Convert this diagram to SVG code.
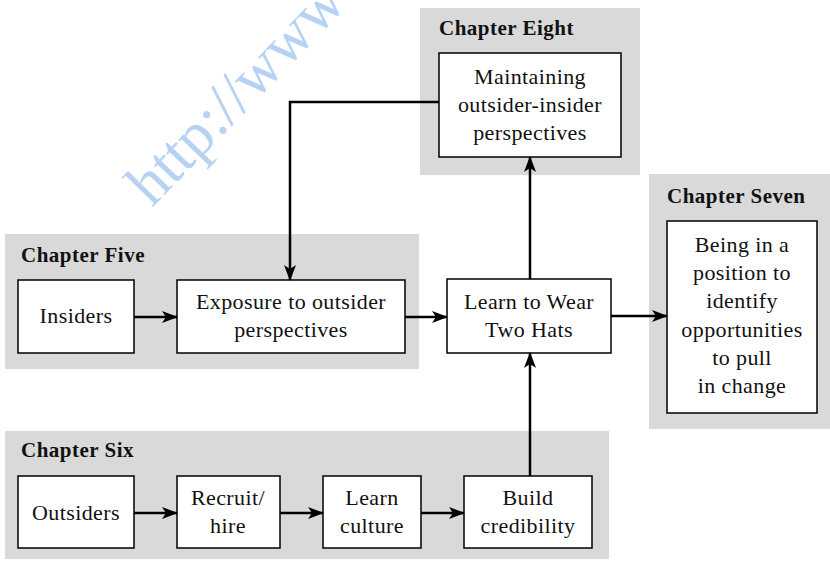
<svg xmlns="http://www.w3.org/2000/svg" width="830" height="562" viewBox="0 0 830 562">
<style>
.panel{fill:#d9d9d9}
.box{fill:#fff;stroke:#000;stroke-width:1.5}
.t{font-family:"Liberation Serif","DejaVu Serif",serif;font-size:22px;letter-spacing:0.4px;fill:#111;text-anchor:middle}
.h{font-family:"Liberation Serif","DejaVu Serif",serif;font-size:21px;letter-spacing:0.5px;font-weight:bold;fill:#111}
.c{fill:none;stroke:#000;stroke-width:2.5}
.wm{font-family:"Liberation Serif","DejaVu Serif",serif;font-size:62px;fill:#b7d2f3}
</style>
<defs>
<marker id="ah" viewBox="0 0 16 12" refX="15" refY="6" markerWidth="16" markerHeight="12" markerUnits="userSpaceOnUse" orient="auto">
<path d="M0,0 L16,6 L0,12 L4,6 Z" fill="#000"/>
</marker>
</defs>
<rect width="830" height="562" fill="#fff"/>
<text class="wm" transform="translate(152,208) rotate(-46)">http://www</text>

<g id="panel-eight">
<rect class="panel" x="420" y="8" width="220" height="167"/>
<text class="h" x="439" y="35">Chapter Eight</text>
</g>
<g id="panel-seven">
<rect class="panel" x="649" y="174" width="181" height="255"/>
<text class="h" x="667" y="203">Chapter Seven</text>
</g>
<g id="panel-five">
<rect class="panel" x="5" y="234" width="414" height="135"/>
<text class="h" x="21" y="262">Chapter Five</text>
</g>
<g id="panel-six">
<rect class="panel" x="5" y="431" width="604" height="128"/>
<text class="h" x="21" y="457">Chapter Six</text>
</g>

<g id="maintaining">
<rect class="box" x="439" y="53" width="182" height="104"/>
<text class="t" x="530" y="84">Maintaining</text>
<text class="t" x="530" y="112">outsider-insider</text>
<text class="t" x="530" y="140">perspectives</text>
</g>
<g id="being">
<rect class="box" x="667" y="221" width="150" height="192"/>
<text class="t" x="742" y="252">Being in a</text>
<text class="t" x="742" y="280">position to</text>
<text class="t" x="742" y="308">identify</text>
<text class="t" x="742" y="337">opportunities</text>
<text class="t" x="742" y="365">to pull</text>
<text class="t" x="742" y="393">in change</text>
</g>
<g id="learn-hats">
<rect class="box" x="447" y="279" width="164" height="74"/>
<text class="t" x="529" y="309">Learn to Wear</text>
<text class="t" x="529" y="337">Two Hats</text>
</g>
<g id="insiders">
<rect class="box" x="18" y="280" width="116" height="73"/>
<text class="t" x="76" y="323">Insiders</text>
</g>
<g id="exposure">
<rect class="box" x="177" y="280" width="228" height="73"/>
<text class="t" x="291" y="309">Exposure to outsider</text>
<text class="t" x="291" y="337">perspectives</text>
</g>
<g id="outsiders">
<rect class="box" x="18" y="476" width="116" height="72"/>
<text class="t" x="76" y="520">Outsiders</text>
</g>
<g id="recruit">
<rect class="box" x="177" y="476" width="103" height="72"/>
<text class="t" x="228" y="505">Recruit/</text>
<text class="t" x="228" y="533">hire</text>
</g>
<g id="culture">
<rect class="box" x="323" y="476" width="98" height="72"/>
<text class="t" x="372" y="505">Learn</text>
<text class="t" x="372" y="533">culture</text>
</g>
<g id="credibility">
<rect class="box" x="464" y="476" width="128" height="72"/>
<text class="t" x="528" y="505">Build</text>
<text class="t" x="528" y="533">credibility</text>
</g>

<g id="connectors">
<line class="c" x1="134" y1="317" x2="177" y2="317" marker-end="url(#ah)"/>
<line class="c" x1="405" y1="317" x2="447" y2="317" marker-end="url(#ah)"/>
<line class="c" x1="611" y1="316" x2="667" y2="316" marker-end="url(#ah)"/>
<line class="c" x1="530" y1="279" x2="530" y2="157" marker-end="url(#ah)"/>
<polyline class="c" points="439,102 290,102 290,280" marker-end="url(#ah)"/>
<line class="c" x1="530" y1="476" x2="530" y2="353" marker-end="url(#ah)"/>
<line class="c" x1="134" y1="513" x2="177" y2="513" marker-end="url(#ah)"/>
<line class="c" x1="280" y1="513" x2="323" y2="513" marker-end="url(#ah)"/>
<line class="c" x1="421" y1="513" x2="464" y2="513" marker-end="url(#ah)"/>
</g>
</svg>
